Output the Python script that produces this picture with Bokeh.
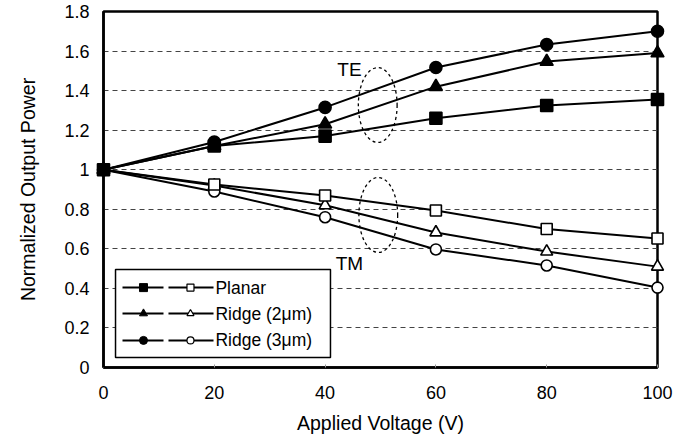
from bokeh.plotting import figure
from bokeh.models import FixedTicker, BoxAnnotation, Range1d
from bokeh.embed import file_html
from bokeh.resources import INLINE
from bokeh.core.properties import value

voltage = [0, 20, 40, 60, 80, 100]
te_planar = [1.0, 1.12, 1.17, 1.26, 1.325, 1.355]
te_ridge2 = [1.0, 1.12, 1.23, 1.42, 1.547, 1.59]
te_ridge3 = [1.0, 1.14, 1.315, 1.517, 1.633, 1.70]
tm_planar = [1.0, 0.925, 0.87, 0.794, 0.70, 0.652]
tm_ridge2 = [1.0, 0.92, 0.82, 0.683, 0.586, 0.51]
tm_ridge3 = [1.0, 0.89, 0.76, 0.597, 0.516, 0.404]
legend_labels = ["Planar", "Ridge (2\u03bcm)", "Ridge (3\u03bcm)"]
y_ticks = [0, 0.2, 0.4, 0.6, 0.8, 1.0, 1.2, 1.4, 1.6, 1.8]
y_tick_labels = ["0", "0.2", "0.4", "0.6", "0.8", "1", "1.2", "1.4", "1.6", "1.8"]
x_ticks = [0, 20, 40, 60, 80, 100]

FONT = "Liberation Sans"

p = figure(width=698, height=439, output_backend="svg", toolbar_location=None,
           x_range=Range1d(0, 100), y_range=Range1d(0, 1.8),
           min_border_left=103, min_border_right=41, min_border_top=11, min_border_bottom=72)
p.background_fill_color = "white"
p.border_fill_color = "white"
p.outline_line_color = "black"
p.outline_line_width = 2.5

p.xgrid.visible = False
p.ygrid.ticker = FixedTicker(ticks=[0.2, 0.4, 0.6, 0.8, 1.0, 1.2, 1.4, 1.6])
p.ygrid.grid_line_color = "#444444"
p.ygrid.grid_line_dash = "5 4"
p.ygrid.grid_line_width = 1

p.yaxis.ticker = FixedTicker(ticks=y_ticks)
p.yaxis.major_label_overrides = {t: l for t, l in zip(y_ticks, y_tick_labels)}
p.xaxis.ticker = FixedTicker(ticks=x_ticks)
for ax in (p.xaxis, p.yaxis):
    ax.axis_line_color = "black"
    ax.axis_line_width = 2.5
    ax.major_label_text_font = FONT
    ax.major_label_text_font_size = "18px"
    ax.major_label_text_color = "black"
    ax.axis_label_text_font = FONT
    ax.axis_label_text_font_size = "19.5px"
    ax.axis_label_text_font_style = "normal"
    ax.axis_label_text_color = "black"
    ax.minor_tick_line_color = None
    ax.major_tick_out = 0
p.xaxis.major_tick_in = 3
p.xaxis.major_tick_line_color = "#999999"
p.yaxis.major_tick_in = 0
p.yaxis.major_tick_line_color = None
p.xaxis.axis_label = "Applied Voltage (V)"
p.yaxis.axis_label = "Normalized Output Power"
p.xaxis.major_label_standoff = 18
p.yaxis.major_label_standoff = 14
p.xaxis.axis_label_standoff = 10
p.yaxis.axis_label_standoff = 22

LW = 2
series = [
    (tm_ridge3, "circle", False),
    (tm_ridge2, "triangle", False),
    (tm_planar, "square", False),
    (te_ridge3, "circle", True),
    (te_ridge2, "triangle", True),
    (te_planar, "square", True),
]
for ys, mk, filled in series:
    r = p.line(voltage, ys, line_color="black", line_width=LW)
    size = 12 if filled else 11
    if mk == "triangle":
        size += 1
    s = p.scatter(voltage, ys, marker=mk, size=size, line_color="black",
                  fill_color="black" if filled else "white", line_width=1.6)
    r.level = "overlay"
    s.level = "overlay"

# dashed ellipses and TE / TM labels
p.ellipse(x=[49.5, 49.6], y=[1.327, 0.771], width=7.0, height=0.379,
          fill_color=None, line_color="black", line_dash="3 3", line_width=1.3)
p.text(x=[42.2, 41.9], y=[1.507, 0.528], text=["TE", "TM"], text_font=value(FONT),
       text_font_size="19px", text_align="left", text_baseline="middle", text_color="black")

# custom legend (two samples per row: TE filled, TM open)
p.add_layout(BoxAnnotation(left=2.17, right=40.97, bottom=0.051, top=0.495,
                           fill_color="white", fill_alpha=1.0, line_color="black",
                           line_alpha=1.0, line_width=1.5, level="glyph"))
rows_y = [0.404, 0.273, 0.137]
markers = ["square", "triangle", "circle"]
for yy, mk, lab in zip(rows_y, markers, legend_labels):
    a = p.segment(x0=[3.43, 11.73], y0=[yy, yy], x1=[10.83, 19.86], y1=[yy, yy],
                  line_color="black", line_width=LW)
    a.level = "overlay"
    b = p.scatter(x=[7.22], y=[yy], marker=mk, size=8, fill_color="black", line_color="black")
    b.level = "overlay"
    c = p.scatter(x=[15.7], y=[yy], marker=mk, size=7, fill_color="white",
                  line_color="black", line_width=1.2)
    c.level = "overlay"
    t = p.text(x=[20.2], y=[yy], text=[lab], text_font=value(FONT), text_font_size="17.5px",
               text_align="left", text_baseline="middle", text_color="black")
    t.level = "overlay"

open("out.html", "w").write(file_html(p, INLINE))
